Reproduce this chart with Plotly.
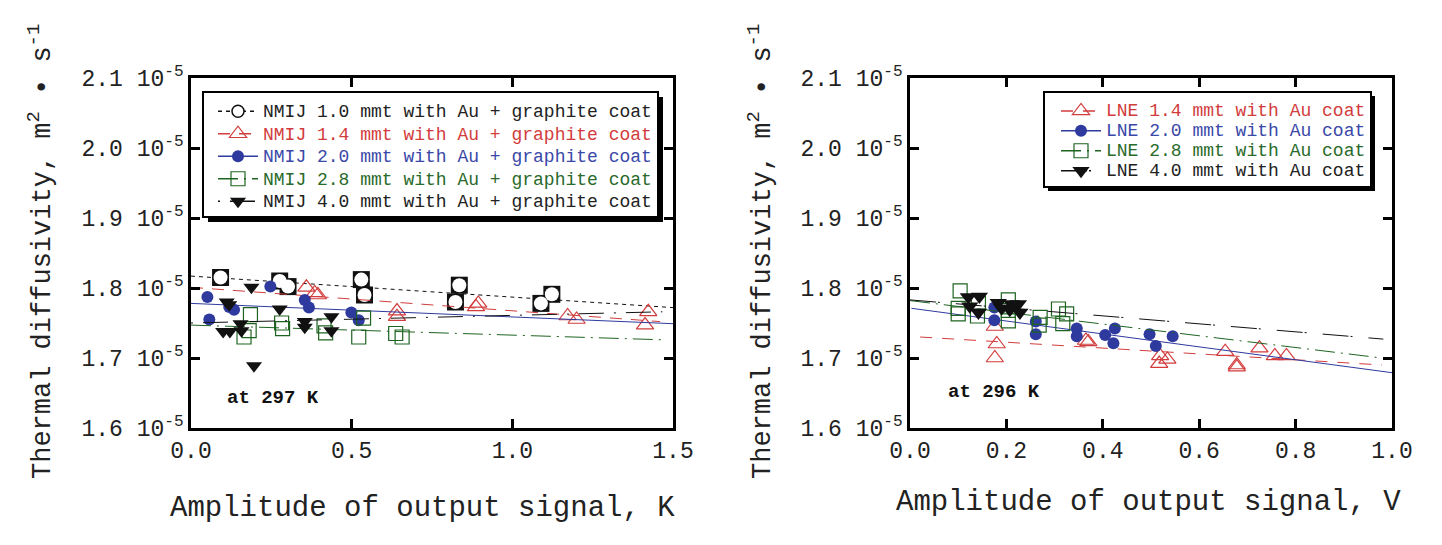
import plotly.graph_objects as go

# ---------------- data (values in units of 1e-5 m^2/s) ----------------
# Left panel: NMIJ, x = amplitude (K)
nmij10_x = [0.092, 0.276, 0.302, 0.530, 0.540, 0.835, 0.823, 1.123, 1.089]
nmij10_y = [1.815, 1.810, 1.802, 1.812, 1.790, 1.804, 1.780, 1.791, 1.778]
nmij14_x = [0.359, 0.385, 0.395, 0.641, 0.641, 0.894, 0.887, 1.172, 1.200, 1.423, 1.413]
nmij14_y = [1.801, 1.793, 1.790, 1.767, 1.759, 1.778, 1.773, 1.760, 1.755, 1.766, 1.747]
nmij20_x = [0.051, 0.057, 0.119, 0.134, 0.247, 0.354, 0.367, 0.499, 0.522]
nmij20_y = [1.787, 1.755, 1.773, 1.769, 1.802, 1.783, 1.772, 1.765, 1.754]
nmij28_x = [0.185, 0.181, 0.165, 0.282, 0.285, 0.414, 0.419, 0.522, 0.537, 0.637, 0.657]
nmij28_y = [1.762, 1.739, 1.730, 1.750, 1.742, 1.746, 1.736, 1.730, 1.757, 1.735, 1.730]
nmij40_x = [0.188, 0.111, 0.119, 0.100, 0.121, 0.154, 0.157, 0.276, 0.354, 0.354, 0.437, 0.437, 0.196]
nmij40_y = [1.801, 1.780, 1.776, 1.738, 1.738, 1.749, 1.739, 1.770, 1.752, 1.744, 1.759, 1.739, 1.689]

# fitted lines (end points)
fit10_x, fit10_y = [0.0, 1.5], [1.817, 1.772]
fit14_x, fit14_y = [0.0, 1.46], [1.801, 1.752]
fit20_x, fit20_y = [0.0, 1.5], [1.778, 1.749]
fit28_x, fit28_y = [0.0, 1.467], [1.747, 1.726]
fit40_x, fit40_y = [0.0, 1.467], [1.750, 1.766]

# Right panel: LNE, x = amplitude (V)
lne14_x = [0.176, 0.180, 0.176, 0.365, 0.370, 0.519, 0.534, 0.517, 0.654, 0.678, 0.678, 0.725, 0.757, 0.781]
lne14_y = [1.745, 1.720, 1.700, 1.725, 1.723, 1.703, 1.698, 1.692, 1.709, 1.690, 1.687, 1.714, 1.703, 1.703]
lne20_x = [0.175, 0.175, 0.261, 0.261, 0.346, 0.346, 0.405, 0.425, 0.422, 0.497, 0.510, 0.545]
lne20_y = [1.772, 1.754, 1.752, 1.734, 1.742, 1.731, 1.733, 1.742, 1.721, 1.734, 1.717, 1.731]
lne28_x = [0.104, 0.100, 0.100, 0.142, 0.140, 0.204, 0.204, 0.204, 0.270, 0.268, 0.308, 0.325, 0.317]
lne28_y = [1.796, 1.771, 1.763, 1.778, 1.760, 1.783, 1.768, 1.753, 1.758, 1.747, 1.770, 1.763, 1.749]
lne40_x = [0.121, 0.144, 0.124, 0.142, 0.183, 0.190, 0.211, 0.225, 0.228, 0.207]
lne40_y = [1.787, 1.788, 1.774, 1.765, 1.779, 1.771, 1.777, 1.777, 1.765, 1.769]

lfit14_x, lfit14_y = [0.021, 0.979], [1.730, 1.690]
lfit20_x, lfit20_y = [0.003, 1.0], [1.771, 1.679]
lfit28_x, lfit28_y = [0.0, 0.979], [1.782, 1.700]
lfit40_x, lfit40_y = [0.0, 0.982], [1.783, 1.727]

yticks = [1.6, 1.7, 1.8, 1.9, 2.0, 2.1]
yticktext = [f"{v:.1f} 10<sup>-5</sup>" for v in yticks]
left_xticks = [0.0, 0.5, 1.0, 1.5]
right_xticks = [0.0, 0.2, 0.4, 0.6, 0.8, 1.0]

# ---------------- styling ----------------
FONT = "Liberation Mono, DejaVu Sans Mono, monospace"
RED = "#d23c3c"
BLUE = "#2e3a9e"
GREEN = "#1e6420"
BLACK = "#111111"
OFF = 8                      # page body margin
W, H = 1442 - 2 * OFF, 545 - 2 * OFF
TOP, BOT = 78, 428           # plot area in page pixels
MT = TOP - OFF
MB = H - (BOT - OFF)
PH = H - MT - MB


def px(xp):
    return (xp - OFF) / W


def py(yp):
    return (BOT - yp) / PH


fig = go.Figure()


def add_series(xs, ys, fx, fy, name, color, symbol, size, dash, xa, ya, legend,
               filled, txtcolor, extra=None):
    fig.add_trace(go.Scatter(x=fx, y=fy, mode="lines", xaxis=xa, yaxis=ya,
                             line=dict(color=color, width=1, dash=dash),
                             showlegend=False, hoverinfo="skip"))
    if filled:
        mk = dict(symbol=symbol, size=size, color=color, line=dict(width=0))
    else:
        mk = dict(symbol=symbol, size=size, color=color, line=dict(width=1.2, color=color))
    fig.add_trace(go.Scatter(x=xs, y=ys, mode="markers", xaxis=xa, yaxis=ya,
                             marker=mk, showlegend=False))
    if extra is not None:
        fig.add_trace(go.Scatter(x=xs, y=ys, mode="markers", xaxis=xa, yaxis=ya,
                                 marker=extra, showlegend=False))
    lmk = dict(mk)
    if extra is not None:
        lmk = dict(symbol="circle", size=12, color="white", line=dict(width=1.5, color=BLACK))
    fig.add_trace(go.Scatter(x=[None], y=[None], mode="lines+markers", xaxis=xa, yaxis=ya,
                             marker=lmk, line=dict(color=color, width=1.5, dash=dash),
                             name=f"<span style='color:{txtcolor};font-size:18px'>{name}</span>",
                             legend=legend, showlegend=True))


# Left panel
add_series(nmij10_x, nmij10_y, fit10_x, fit10_y, "NMIJ 1.0 mmt with Au + graphite coat",
           BLACK, "square", 17, "4px,4px", "x", "y", "legend", True, "#222222",
           extra=dict(symbol="circle", size=14, color="white", line=dict(width=0)))
add_series(nmij14_x, nmij14_y, fit14_x, fit14_y, "NMIJ 1.4 mmt with Au + graphite coat",
           RED, "triangle-up-open", 15, "12px,9px", "x", "y", "legend", False, "#d23c3c")
add_series(nmij20_x, nmij20_y, fit20_x, fit20_y, "NMIJ 2.0 mmt with Au + graphite coat",
           BLUE, "circle", 12, "solid", "x", "y", "legend", True, "#3a48a8")
add_series(nmij28_x, nmij28_y, fit28_x, fit28_y, "NMIJ 2.8 mmt with Au + graphite coat",
           GREEN, "square-open", 14, "20px,6px,2px,6px", "x", "y", "legend", False, "#2a6a2a")
add_series(nmij40_x, nmij40_y, fit40_x, fit40_y, "NMIJ 4.0 mmt with Au + graphite coat",
           BLACK, "triangle-down", 14, "2px,10px,25px,10px", "x", "y", "legend", True, "#222222")

# Right panel
add_series(lne14_x, lne14_y, lfit14_x, lfit14_y, "LNE 1.4 mmt with Au coat",
           RED, "triangle-up-open", 15, "12px,10px", "x2", "y2", "legend2", False, "#d23c3c")
add_series(lne20_x, lne20_y, lfit20_x, lfit20_y, "LNE 2.0 mmt with Au coat",
           BLUE, "circle", 12, "solid", "x2", "y2", "legend2", True, "#3a48a8")
add_series(lne28_x, lne28_y, lfit28_x, lfit28_y, "LNE 2.8 mmt with Au coat",
           GREEN, "square-open", 14, "20px,6px,2px,6px", "x2", "y2", "legend2", False, "#2a6a2a")
add_series(lne40_x, lne40_y, lfit40_x, lfit40_y, "LNE 4.0 mmt with Au coat",
           BLACK, "triangle-down", 15, "26px,2px,2px,16px", "x2", "y2", "legend2", True, "#222222")

axis_common = dict(showline=True, linecolor="black", linewidth=2.5, mirror="allticks",
                   ticks="inside", ticklen=9, tickwidth=2.5, tickcolor="black",
                   showgrid=False, zeroline=False, automargin=False,
                   tickfont=dict(family=FONT, size=23, color="#222222"))

fig.update_layout(
    width=W, height=H,
    margin=dict(l=0, r=0, t=MT, b=MB, autoexpand=False),
    paper_bgcolor="white", plot_bgcolor="white",
    font=dict(family=FONT, color="#222222"),
    xaxis=dict(domain=[px(191), px(673)], range=[0, 1.5], tickvals=left_xticks,
               ticktext=[f"{v:.1f}" for v in left_xticks], anchor="y", **axis_common),
    yaxis=dict(domain=[0, 1], range=[1.6, 2.1], tickvals=yticks, ticktext=yticktext,
               anchor="x", **axis_common),
    xaxis2=dict(domain=[px(910), px(1392)], range=[0, 1.0], tickvals=right_xticks,
                ticktext=[f"{v:.1f}" for v in right_xticks], anchor="y2", **axis_common),
    yaxis2=dict(domain=[0, 1], range=[1.6, 2.1], tickvals=yticks, ticktext=yticktext,
                anchor="x2", **axis_common),
    legend=dict(x=px(213), y=py(95), xanchor="left", yanchor="top",
                bgcolor="rgba(0,0,0,0)", borderwidth=0, itemwidth=40,
                font=dict(family=FONT, size=15), tracegroupgap=0),
    legend2=dict(x=px(1056), y=py(96), xanchor="left", yanchor="top",
                 bgcolor="rgba(0,0,0,0)", borderwidth=0, itemwidth=40,
                 font=dict(family=FONT, size=13), tracegroupgap=0),
    showlegend=True,
)

# legend boxes with shadow
for (x0, y0, x1, y1, off) in [(203, 92, 658, 217, 5), (1044, 92, 1371, 187, 4)]:
    fig.add_shape(type="rect", xref="paper", yref="paper",
                  x0=px(x0 + off), x1=px(x1 + off), y0=py(y1 + off), y1=py(y0 + off),
                  fillcolor="black", line=dict(width=0), layer="above")
    fig.add_shape(type="rect", xref="paper", yref="paper",
                  x0=px(x0), x1=px(x1), y0=py(y1), y1=py(y0),
                  fillcolor="white", line=dict(color="black", width=2), layer="above")

# annotations
ann = []
ytitle = "Thermal diffusivity, m<sup>2</sup> • s<sup>-1</sup>"
for xc in (40, 760):
    ann.append(dict(text=ytitle, xref="paper", yref="paper", x=px(xc), y=py(252),
                    textangle=-90, showarrow=False, font=dict(family=FONT, size=27, color="#222222"),
                    xanchor="center", yanchor="middle"))
ann.append(dict(text="Amplitude of output signal, K", xref="paper", yref="paper",
                x=px(423), y=py(508), showarrow=False, xanchor="center", yanchor="middle",
                font=dict(family=FONT, size=29, color="#222222")))
ann.append(dict(text="Amplitude of output signal, V", xref="paper", yref="paper",
                x=px(1148), y=py(503), showarrow=False, xanchor="center", yanchor="middle",
                font=dict(family=FONT, size=29, color="#222222")))
ann.append(dict(text="<b>at 297 K</b>", xref="paper", yref="paper", x=px(273), y=py(398),
                showarrow=False, xanchor="center", yanchor="middle",
                font=dict(family=FONT, size=19, color="#111111")))
ann.append(dict(text="<b>at 296 K</b>", xref="paper", yref="paper", x=px(994), y=py(392),
                showarrow=False, xanchor="center", yanchor="middle",
                font=dict(family=FONT, size=19, color="#111111")))
fig.update_layout(annotations=ann)

fig.write_html("out.html")
